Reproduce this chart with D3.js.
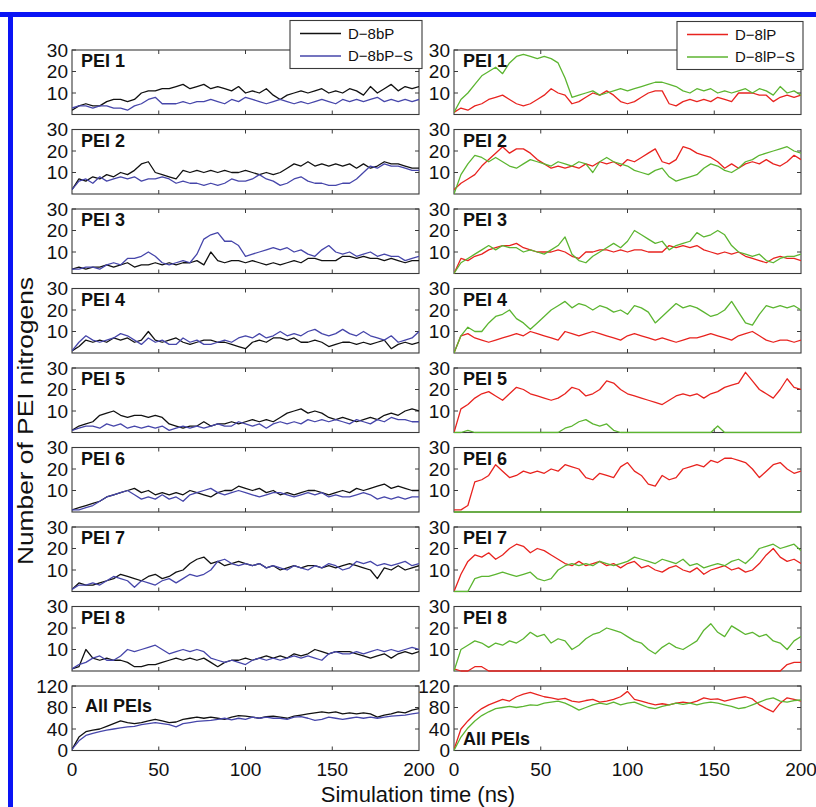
<!DOCTYPE html>
<html>
<head>
<meta charset="utf-8">
<script src="https://cdn.jsdelivr.net/npm/d3@7"></script>
<style>
body { margin: 0; background: #fff; }
text { font-family: "Liberation Sans", Arial, Helvetica, sans-serif; fill: #111; }
</style>
</head>
<body>
<svg id="chart"></svg>
<script>
const width = 816;
const height = 807;

// panel names, legend names and tick labels
const panelNames = ["PEI 1", "PEI 2", "PEI 3", "PEI 4", "PEI 5", "PEI 6", "PEI 7", "PEI 8", "All PEIs"];
const leftNames = ["D\u22128bP", "D\u22128bP\u2212S"];
const rightNames = ["D\u22128lP", "D\u22128lP\u2212S"];
const xTicks = [0, 50, 100, 150, 200];
const peiTicks = [10, 20, 30];
const allTicks = [0, 40, 80, 120];

const L1_b = [2,4,5,4,4,6,7,7,6,7,10,11,11,12,12,13,14,12,13,14,12,13,12,11,13,10,11,10,12,9,7,9,10,11,10,11,12,10,11,10,12,11,9,13,10,12,14,11,13,12,13];
const L1_s = [3,4,4,3,4,4,3,3,2,4,5,7,8,5,5,5,6,5,6,6,7,6,5,7,6,8,7,6,5,6,7,6,5,6,5,6,7,6,5,7,6,7,6,7,8,6,7,6,7,6,7];
const L2_b = [2,7,6,8,7,9,8,10,9,11,14,15,10,9,8,7,11,10,11,10,11,10,11,10,10,11,10,9,10,9,10,12,14,13,15,13,14,13,14,13,14,12,14,12,13,15,14,14,13,12,12];
const L2_s = [2,6,7,5,8,6,7,8,7,8,6,7,7,8,7,5,6,5,5,4,5,4,5,7,6,6,7,9,7,6,4,5,7,8,6,5,5,4,4,5,5,7,10,13,12,14,13,13,12,11,11];
const L3_b = [2,3,2,3,3,4,3,4,5,3,4,4,5,4,5,4,5,5,6,4,10,6,5,6,6,5,6,5,4,5,4,5,6,5,7,7,6,6,6,8,8,7,8,7,7,6,7,6,5,6,6];
const L3_s = [2,2,3,3,2,4,5,4,7,7,8,10,8,5,4,5,6,5,9,16,18,19,15,15,13,8,9,10,11,12,11,12,10,11,9,8,11,13,10,9,10,8,9,10,8,9,8,8,6,7,8];
const L4_b = [1,3,6,5,6,5,7,6,7,5,6,10,6,5,6,7,5,4,5,6,6,5,5,4,3,2,5,6,5,7,7,6,7,5,5,6,5,3,4,5,5,4,5,4,5,6,2,4,5,4,5];
const L4_s = [1,5,8,6,5,6,7,9,8,6,4,7,5,6,4,4,7,5,6,4,4,5,6,5,7,8,7,9,7,8,10,8,9,8,10,11,9,8,9,11,9,8,10,8,7,6,8,5,6,7,10];
const L5_b = [1,3,4,5,8,9,10,8,7,8,8,7,8,7,4,3,2,3,3,5,3,4,4,5,4,5,6,5,6,5,7,9,10,11,9,10,9,7,6,7,6,5,6,7,6,8,9,8,10,11,10];
const L5_s = [1,2,3,3,2,4,3,4,2,3,2,3,2,3,1,2,3,2,3,2,3,4,3,3,5,4,3,4,2,4,5,4,5,4,6,5,6,5,6,5,4,6,5,4,6,5,7,6,6,5,5];
const L6_b = [1,2,3,4,5,7,8,9,10,11,9,10,8,9,8,9,8,10,9,8,7,9,10,10,12,11,10,11,9,10,8,9,8,9,10,10,9,8,9,10,9,11,10,11,12,13,11,12,11,10,10];
const L6_s = [1,1,2,3,5,7,8,9,10,8,6,7,6,8,6,7,5,8,9,10,11,9,8,9,10,9,8,7,8,9,9,8,7,8,9,8,9,7,8,7,7,8,9,8,6,7,6,7,6,7,7];
const L7_b = [1,4,3,3,4,5,6,8,7,6,5,7,8,6,7,9,10,13,15,16,13,14,12,13,14,13,12,13,11,12,10,11,12,11,12,12,11,12,11,12,13,12,11,10,6,11,10,12,10,11,12];
const L7_s = [1,3,3,4,3,5,7,6,5,2,5,4,3,5,6,4,6,8,7,8,10,14,15,13,12,13,12,13,11,12,11,10,12,11,10,12,11,13,12,10,11,14,13,14,12,13,12,13,14,12,13];
const L8_b = [1,2,10,6,5,6,5,5,4,2,2,3,3,4,5,6,5,6,5,6,4,2,4,5,5,6,5,6,7,6,7,6,8,7,8,10,9,8,9,9,9,8,7,6,7,8,6,8,9,8,9];
const L8_s = [1,3,4,6,7,5,5,7,10,9,10,11,12,10,8,9,10,9,10,9,6,5,4,5,4,3,5,6,5,6,5,6,7,6,7,6,5,8,9,8,8,9,8,9,10,9,10,9,10,11,10];
const L9_b = [2,25,35,38,40,45,50,55,52,50,52,55,58,55,52,53,58,60,62,60,62,60,58,62,65,64,62,60,63,64,62,60,64,66,68,70,72,70,72,68,70,68,70,68,62,66,68,72,70,75,78];
const L9_s = [2,18,28,32,35,38,40,42,44,45,48,50,52,50,48,44,50,52,54,55,56,58,60,57,60,58,62,60,62,60,60,58,62,63,60,56,58,62,60,58,60,62,60,62,60,62,64,65,66,68,70];

const R1_l = [1,3,2,4,5,7,8,9,7,5,4,5,7,9,12,10,9,5,6,8,10,9,11,9,6,5,6,8,10,11,11,5,4,6,7,6,7,6,8,7,6,10,10,10,9,9,6,8,9,8,9];
const R1_s = [1,7,10,14,18,20,22,19,24,27,28,27,26,27,26,24,17,8,9,10,11,9,10,11,12,11,12,13,14,15,15,14,13,11,10,12,11,12,10,11,10,11,12,10,12,11,9,13,10,11,9];
const R2_l = [2,5,7,9,13,16,19,22,19,21,21,19,16,14,12,13,12,13,12,14,13,15,14,15,13,16,15,17,19,21,15,14,16,22,21,19,18,17,15,12,14,12,14,15,14,16,14,13,15,18,16];
const R2_s = [0,9,14,18,17,15,17,15,13,12,14,16,15,14,13,15,14,13,15,14,10,15,17,15,14,13,11,10,9,11,12,8,6,7,8,9,12,14,13,11,10,12,15,16,18,19,20,21,22,20,19];
const R3_l = [0,7,6,8,9,11,12,13,13,14,12,11,10,10,10,11,10,8,7,10,10,11,11,10,11,10,11,11,10,10,10,13,12,13,12,13,11,10,9,10,9,10,8,7,6,5,7,8,7,7,6];
const R3_s = [0,5,7,9,11,13,11,13,12,12,10,11,10,9,11,13,17,9,6,5,8,10,12,14,12,15,20,18,16,14,15,11,13,14,15,19,17,18,20,18,13,10,9,8,9,6,5,7,8,8,9];
const R4_l = [0,8,9,7,6,5,6,7,8,9,8,10,9,8,7,6,10,9,8,9,10,9,8,7,6,8,9,8,7,6,7,6,5,6,7,7,8,9,8,7,6,8,9,10,8,6,5,6,6,5,6];
const R4_s = [0,8,12,10,10,14,17,18,20,16,14,11,14,17,20,22,24,21,23,22,20,22,21,19,20,18,22,21,19,14,17,20,23,21,22,21,19,17,18,20,24,19,14,13,18,22,21,22,21,22,20];
const R5_l = [0,11,13,16,18,19,17,15,18,21,20,18,17,16,15,16,18,21,20,17,18,20,24,23,20,18,17,16,15,14,13,15,17,18,17,18,16,18,19,21,22,23,28,24,20,18,16,20,25,21,20];
const R5_s = [0,0,1,0,0,0,0,0,0,0,0,0,0,0,0,0,2,3,5,6,4,3,4,1,0,0,0,0,0,0,0,0,0,0,0,0,0,0,3,0,0,0,0,0,0,0,0,0,0,0,0];
const R6_l = [1,1,3,14,15,17,22,19,16,17,19,18,19,18,20,19,22,21,20,16,15,18,17,16,21,23,19,17,13,12,17,15,16,20,21,22,21,24,23,25,25,24,23,20,16,19,22,23,20,18,19];
const R6_s = [0,0,0,0,0,0,0,0,0,0,0,0,0,0,0,0,0,0,0,0,0,0,0,0,0,0,0,0,0,0,0,0,0,0,0,0,0,0,0,0,0,0,0,0,0,0,0,0,0,0,0];
const R7_l = [0,8,14,17,16,18,15,17,20,22,21,18,20,19,17,15,13,12,14,12,13,14,12,13,11,13,14,11,12,10,9,11,12,10,9,11,8,10,11,12,10,11,9,10,13,17,20,16,14,15,13];
const R7_s = [0,0,0,6,7,7,8,9,8,7,8,9,6,5,6,10,12,13,12,13,12,14,13,12,13,14,16,15,14,13,15,14,13,15,12,13,11,12,13,12,14,15,13,16,20,21,22,20,21,22,19];
const R8_l = [1,0,0,2,2,0,0,0,0,0,0,0,0,0,0,0,0,0,0,0,0,0,0,0,0,0,0,0,0,0,0,0,0,0,0,0,0,0,0,0,0,0,0,0,0,0,0,0,3,4,4];
const R8_s = [0,10,12,14,13,11,13,12,14,13,15,18,16,17,13,15,14,10,12,15,17,18,20,19,18,16,14,13,10,8,11,13,11,10,12,14,19,22,18,16,21,19,17,18,16,17,14,13,10,14,16];
const R9_l = [2,40,55,68,78,85,90,95,92,100,105,108,104,100,98,95,97,92,90,93,95,90,92,95,100,110,95,92,88,85,87,85,88,90,88,92,98,95,96,92,95,98,100,96,85,78,72,88,98,95,92];
const R9_s = [0,25,42,55,65,72,78,80,82,80,82,85,84,88,90,92,88,82,75,80,85,88,86,90,85,88,90,85,80,78,82,85,88,86,88,85,88,90,88,85,82,78,80,85,90,95,98,92,90,93,94];

const leftData = [[L1_b, L1_s], [L2_b, L2_s], [L3_b, L3_s], [L4_b, L4_s], [L5_b, L5_s], [L6_b, L6_s], [L7_b, L7_s], [L8_b, L8_s], [L9_b, L9_s]];
const rightData = [[R1_l, R1_s], [R2_l, R2_s], [R3_l, R3_s], [R4_l, R4_s], [R5_l, R5_s], [R6_l, R6_s], [R7_l, R7_s], [R8_l, R8_s], [R9_l, R9_s]];

const leftColors = ["#111111", "#4646aa"];
const rightColors = ["#e8231f", "#5cb531"];

const cols = [
    {x0: 72, x1: 419, data: leftData, colors: leftColors},
    {x0: 454, x1: 801, data: rightData, colors: rightColors}
];
const panelTop = 50, panelStep = 79.5, panelH = 64.5;

const svg = d3.select('#chart')
    .attr('width', width)
    .attr('height', height)
    .style('display', 'block');

svg.append('rect').attr('width', width).attr('height', height).attr('fill', '#fff');

// blue frame (top and left edge)
svg.append('rect').attr('x', 0).attr('y', 12).attr('width', width).attr('height', 5).attr('fill', '#0a14f5');
svg.append('rect').attr('x', 8).attr('y', 12).attr('width', 5).attr('height', height - 12).attr('fill', '#0a14f5');

const defs = svg.append('defs');

cols.forEach((col, c) => {
    const x = d3.scaleLinear().domain([0, 200]).range([col.x0, col.x1]);

    col.data.forEach((pair, r) => {
        const top = panelTop + r * panelStep;
        const bottom = top + panelH;
        const isAll = r === 8;
        const y = d3.scaleLinear().domain([0, isAll ? 120 : 30]).range([bottom, top]);
        const g = svg.append('g').attr('class', 'panel');

        // box
        g.append('rect')
            .attr('x', col.x0).attr('y', top)
            .attr('width', col.x1 - col.x0).attr('height', panelH)
            .attr('fill', 'none').attr('stroke', '#3a3a3a').attr('stroke-width', 1.1);

        // inward ticks on all four sides
        const tk = 4;
        [50, 100, 150].forEach(t => {
            g.append('line').attr('x1', x(t)).attr('x2', x(t)).attr('y1', bottom).attr('y2', bottom - tk).attr('stroke', '#3a3a3a');
            g.append('line').attr('x1', x(t)).attr('x2', x(t)).attr('y1', top).attr('y2', top + tk).attr('stroke', '#3a3a3a');
        });
        const yt = isAll ? allTicks : peiTicks;
        yt.forEach(v => {
            g.append('line').attr('x1', col.x0).attr('x2', col.x0 + tk).attr('y1', y(v)).attr('y2', y(v)).attr('stroke', '#3a3a3a');
            g.append('line').attr('x1', col.x1).attr('x2', col.x1 - tk).attr('y1', y(v)).attr('y2', y(v)).attr('stroke', '#3a3a3a');
            g.append('text')
                .attr('x', col.x0 - 4).attr('y', y(v)).attr('dy', '0.36em')
                .attr('text-anchor', 'end').style('font-size', '19px')
                .text(v);
        });

        // series
        const clipId = `clip-${c}-${r}`;
        defs.append('clipPath').attr('id', clipId)
            .append('rect').attr('x', col.x0).attr('y', top).attr('width', col.x1 - col.x0).attr('height', panelH + 1);

        pair.forEach((vals, s) => {
            const step = 200 / (vals.length - 1);
            const line = d3.line()
                .x((d, i) => x(i * step))
                .y(d => y(d));
            g.append('path')
                .datum(vals)
                .attr('clip-path', `url(#${clipId})`)
                .attr('d', line)
                .attr('fill', 'none')
                .attr('stroke', col.colors[s])
                .attr('stroke-width', 1.3)
                .attr('stroke-linejoin', 'round');
        });

        // panel label
        let lx = col.x0 + 9, ly = top + 17;
        if (isAll) {
            if (c === 0) { lx = col.x0 + 13; ly = top + 26; }
            else { ly = bottom - 6; }
        }
        g.append('text')
            .attr('x', lx).attr('y', ly)
            .style('font-size', '18px').style('font-weight', 'bold')
            .text(panelNames[r]);

        // x tick labels on bottom row
        if (isAll) {
            xTicks.forEach(t => {
                g.append('text')
                    .attr('x', x(t)).attr('y', bottom + 25)
                    .attr('text-anchor', 'middle').style('font-size', '19px')
                    .text(t);
            });
        }
    });
});

// axis titles
svg.append('text')
    .attr('x', 418).attr('y', 802)
    .attr('text-anchor', 'middle').style('font-size', '22px')
    .text('Simulation time (ns)');

svg.append('text')
    .attr('transform', 'translate(33,421) rotate(-90)')
    .attr('text-anchor', 'middle').style('font-size', '22px')
    .attr('textLength', 288).attr('lengthAdjust', 'spacingAndGlyphs')
    .text('Number of PEI nitrogens');

// legends
function drawLegend(x0, y0, w, names, colors) {
    const lg = svg.append('g').attr('transform', `translate(${x0},${y0})`);
    lg.append('rect').attr('width', w).attr('height', 48)
        .attr('fill', '#fff').attr('stroke', '#3a3a3a').attr('stroke-width', 1.1);
    names.forEach((n, i) => {
        const yy = 13 + i * 22.5;
        lg.append('line').attr('x1', 10).attr('x2', 51).attr('y1', yy).attr('y2', yy)
            .attr('stroke', colors[i]).attr('stroke-width', 1.3);
        lg.append('text').attr('x', 58).attr('y', yy).attr('dy', '0.36em')
            .style('font-size', '15px').text(n);
    });
}
drawLegend(290, 20.5, 132, leftNames, leftColors);
drawLegend(677, 21.5, 126, rightNames, rightColors);
</script>
</body>
</html>
